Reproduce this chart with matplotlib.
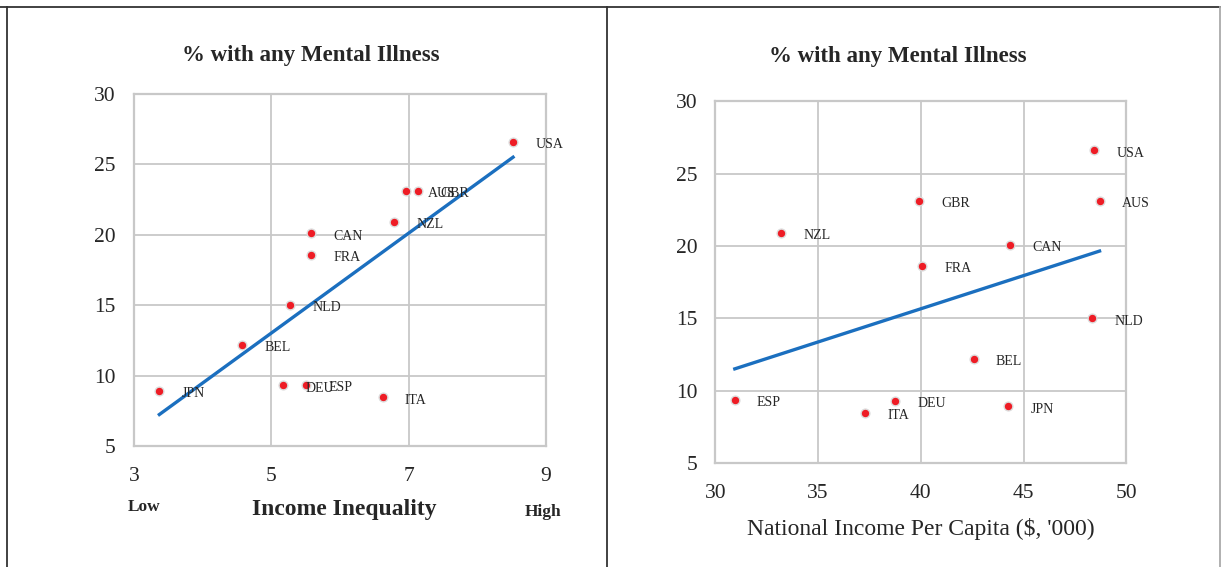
import numpy as np
import matplotlib
matplotlib.use("Agg")
from matplotlib import pyplot as plt
from matplotlib.lines import Line2D

# data
countries = ['USA', 'AUS', 'GBR', 'NZL', 'CAN', 'FRA', 'NLD', 'BEL', 'JPN', 'DEU', 'ESP', 'ITA']
mental_illness = [26.6, 23.1, 23.1, 20.9, 20.1, 18.6, 15.0, 12.2, 8.9, 9.3, 9.35, 8.45]
inequality = [8.52, 6.96, 7.14, 6.79, 5.58, 5.58, 5.27, 4.58, 3.37, 5.17, 5.51, 6.62]
income = [48.44, 48.69, 39.93, 33.22, 44.35, 40.05, 48.33, 42.57, 44.24, 38.74, 30.95, 37.3]

left_ticks_x = [3, 5, 7, 9]
right_ticks_x = [30, 35, 40, 45, 50]
ticks_y = [5, 10, 15, 20, 25, 30]

plt.rcParams['font.family'] = ['Liberation Serif', 'DejaVu Serif']

grid_col = '#c8c8c8'
txt_col = '#262626'
red = '#ee1c25'
blue = '#1b6fbf'

fig = plt.figure(figsize=(12.21, 5.67), dpi=100)


def scatter_panel(ax, x, y, xticks):
    ax.set_ylim(5, 30)
    ax.set_xlim(xticks[0], xticks[-1])
    ax.set_xticks(xticks)
    ax.set_yticks(ticks_y)
    ax.grid(True, color=grid_col, linewidth=1.3)
    ax.set_axisbelow(True)
    for s in ax.spines.values():
        s.set_color(grid_col)
        s.set_linewidth(1.6)
    ax.tick_params(length=0, labelsize=15.5, labelcolor=txt_col)
    ax.tick_params(axis='x', pad=15)
    ax.tick_params(axis='y', pad=13)

    # linear trend over the data range
    m, b = np.polyfit(x, y, 1)
    xs = np.array([min(x), max(x)])
    ax.plot(xs, m * xs + b, color=blue, linewidth=2.4, zorder=2)

    ax.scatter(x, y, s=40, color=red, edgecolors='#dcdcdc', linewidths=1.0, zorder=3)
    for name, xi, yi in zip(countries, x, y):
        ax.annotate(name, (xi, yi), xytext=(16, -2), textcoords='offset points',
                    ha='left', va='center', fontsize=10, color=txt_col, zorder=4)


ax1 = fig.add_axes([0.1097, 0.2134, 0.3375, 0.6208])
scatter_panel(ax1, inequality, mental_illness, left_ticks_x)
ax1.text(0.024, -0.173, 'Low', transform=ax1.transAxes, ha='center', va='center',
         fontsize=12.5, fontweight='bold', color=txt_col)
ax1.text(0.51, -0.179, 'Income Inequality', transform=ax1.transAxes, ha='center', va='center',
         fontsize=17, fontweight='bold', color=txt_col)
ax1.text(0.993, -0.188, 'High', transform=ax1.transAxes, ha='center', va='center',
         fontsize=12.5, fontweight='bold', color=txt_col)

ax2 = fig.add_axes([0.5858, 0.1836, 0.3368, 0.6377])
scatter_panel(ax2, income, mental_illness, right_ticks_x)
ax2.text(0.5, -0.183, "National Income Per Capita ($, '000)", transform=ax2.transAxes,
         ha='center', va='center', fontsize=17, color=txt_col)

fig.text(310.5 / 1221, 1 - 56 / 567, '% with any Mental Illness', ha='center', va='center',
         fontsize=16.5, fontweight='bold', color=txt_col)
fig.text(897.5 / 1221, 1 - 57 / 567, '% with any Mental Illness', ha='center', va='center',
         fontsize=16.5, fontweight='bold', color=txt_col)

# page frame lines
y_top = 1 - 6.5 / 567
fig.add_artist(Line2D([0, 1], [y_top, y_top], color='#333333', linewidth=1.3))
fig.add_artist(Line2D([6.5 / 1221, 6.5 / 1221], [0, y_top], color='#333333', linewidth=1.3))
fig.add_artist(Line2D([607 / 1221, 607 / 1221], [0, y_top], color='#333333', linewidth=1.3))
fig.add_artist(Line2D([1219.5 / 1221, 1219.5 / 1221], [0, y_top], color='#aaaaaa', linewidth=1.3))

fig.savefig('out.png', dpi=100)
